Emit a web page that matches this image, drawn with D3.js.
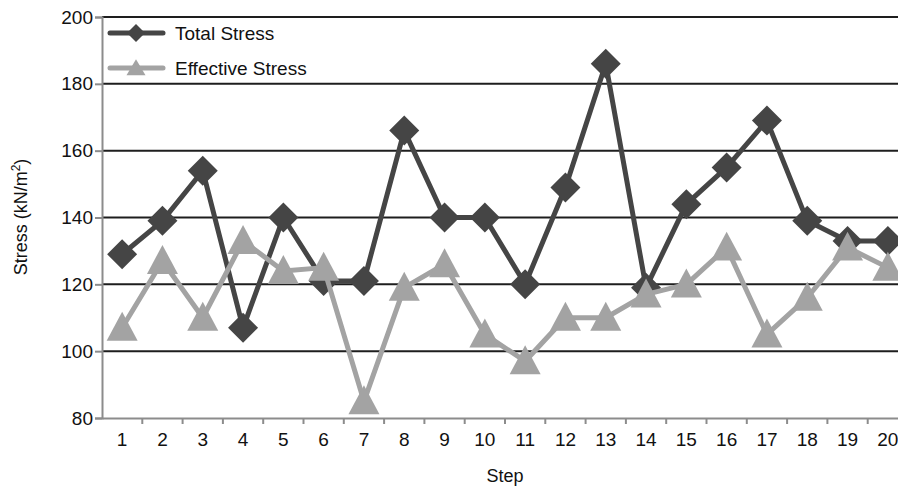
<!DOCTYPE html>
<html><head><meta charset="utf-8">
<script src="https://cdn.jsdelivr.net/npm/d3@7"></script>
<style>body{margin:0;background:#fff}svg{display:block;font-family:"Liberation Sans",Arial,sans-serif}</style>
</head><body>
<svg id="c" width="898" height="491"></svg>
<script>
const steps = ["1","2","3","4","5","6","7","8","9","10","11","12","13","14","15","16","17","18","19","20"];
const totalStress = [129,139,154,107,140,121,121,166,140,140,120,149,186,119,144,155,169,139,133,133];
const effectiveStress = [107,127,110,133,124,125,85,119,126,105,97,110,110,117,120,131,105,116,131,125];
const yTicks = [80,100,120,140,160,180,200];
const seriesNames = ["Total Stress","Effective Stress"];

const svg = d3.select("#c");
const L = 102, R = 908, T = 17, B = 418;
const x = d3.scaleBand().domain(steps).range([L, R]);
const y = d3.scaleLinear().domain([80, 200]).range([B, T]);
const cx = d => x(d) + x.bandwidth() / 2;
const FF = "Liberation Sans, Arial, sans-serif";

// gridlines
svg.append("g").selectAll("line").data(yTicks.filter(v => v > 80)).join("line")
  .attr("x1", L).attr("x2", 898).attr("y1", d => y(d)).attr("y2", d => y(d))
  .attr("stroke", "#1e1e1e").attr("stroke-width", 2);

// y axis
const ya = svg.append("g").attr("transform", `translate(${L},0)`)
  .call(d3.axisLeft(y).tickValues(yTicks).tickSize(7).tickPadding(2));
ya.select(".domain").attr("stroke", "#8c8c8c").attr("stroke-width", 2);
ya.selectAll(".tick line").attr("stroke", "#8c8c8c").attr("stroke-width", 2);
ya.selectAll("text").attr("font-size", 19).attr("fill", "#111").attr("font-family", FF);

// x axis
const xa = svg.append("g").attr("transform", `translate(0,${B})`)
  .call(d3.axisBottom(x).tickSize(0).tickPadding(14.5));
xa.select(".domain").attr("stroke", "#8c8c8c").attr("stroke-width", 2);
xa.selectAll("text").attr("font-size", 19).attr("fill", "#111").attr("font-family", FF);
svg.append("g").selectAll("line").data(steps.slice(1)).join("line")
  .attr("x1", d => x(d)).attr("x2", d => x(d)).attr("y1", B).attr("y2", B + 6)
  .attr("stroke", "#8c8c8c").attr("stroke-width", 2);

// axis titles
svg.append("text").attr("x", 505).attr("y", 482).attr("text-anchor", "middle")
  .attr("font-size", 18).attr("fill", "#111").text("Step");
const yl = svg.append("text").attr("transform", "translate(27,217) rotate(-90)")
  .attr("text-anchor", "middle").attr("font-size", 18).attr("fill", "#111");
yl.append("tspan").text("Stress (kN/m");
yl.append("tspan").attr("font-size", 12).attr("dy", -7).text("2");
yl.append("tspan").attr("dy", 7).text(")");

const diamond = s => `M0,${-s}L${s},0L0,${s}L${-s},0Z`;
const tri = (w, h) => `M0,${-h * 0.55}L${w / 2},${h * 0.45}L${-w / 2},${h * 0.45}Z`;

const line = d3.line().x((d, i) => cx(steps[i])).y(d => y(d));
const dark = "#454545", light = "#a3a3a3";

svg.append("path").datum(totalStress).attr("d", line).attr("fill", "none")
  .attr("stroke", dark).attr("stroke-width", 5).attr("stroke-linejoin", "round");
svg.append("g").selectAll("path").data(totalStress).join("path")
  .attr("transform", (d, i) => `translate(${cx(steps[i])},${y(d)})`)
  .attr("d", diamond(15)).attr("fill", dark);

svg.append("path").datum(effectiveStress).attr("d", line).attr("fill", "none")
  .attr("stroke", light).attr("stroke-width", 5).attr("stroke-linejoin", "round");
svg.append("g").selectAll("path").data(effectiveStress).join("path")
  .attr("transform", (d, i) => `translate(${cx(steps[i])},${y(d)})`)
  .attr("d", tri(31, 29)).attr("fill", light);

// legend
const lg = svg.append("g");
lg.append("rect").attr("x", 104).attr("y", 20).attr("width", 225).attr("height", 62).attr("fill", "#fff");
[[dark, 33, "d"], [light, 68, "t"]].forEach(([c, yy, m], i) => {
  lg.append("line").attr("x1", 110).attr("x2", 163).attr("y1", yy).attr("y2", yy)
    .attr("stroke", c).attr("stroke-width", 5).attr("stroke-linecap", "round");
  lg.append("path").attr("transform", `translate(136,${yy})`)
    .attr("d", m === "d" ? diamond(9) : tri(19, 16)).attr("fill", c);
  lg.append("text").attr("x", 175).attr("y", yy + 6.5).attr("font-size", 19).attr("fill", "#111")
    .attr("font-family", FF).text(seriesNames[i]);
});
</script>
</body></html>
